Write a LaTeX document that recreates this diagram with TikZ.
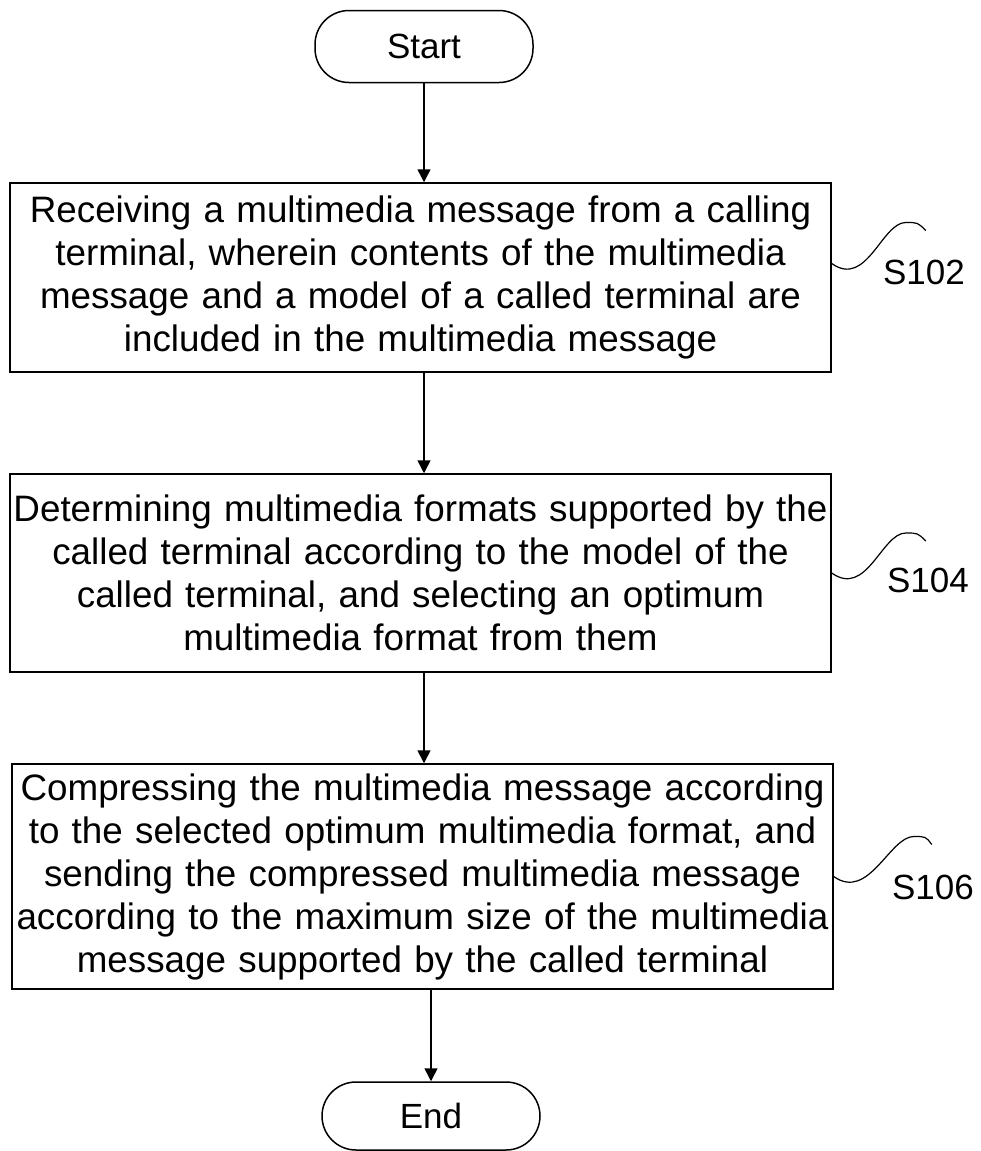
\documentclass[tikz,border=0pt]{standalone}
\usepackage{fontspec}
\setmainfont{Liberation Sans}
\usetikzlibrary{arrows.meta}
\begin{document}
\begin{tikzpicture}[x=1pt,y=1pt,line width=1.5pt,
  every node/.style={font=\fontsize{35}{42.5}\selectfont},
  term/.style={draw,rectangle,rounded corners=34pt,minimum width=218pt,minimum height=72pt,inner sep=0pt},
  stepbox/.style={draw,rectangle,minimum width=821pt,text width=819pt,align=center,inner sep=0pt,
    font=\fontsize{36.8}{43}\selectfont},
  arr/.style={-{Triangle[length=13pt,width=13pt]}}]
\useasboundingbox (0,0) rectangle (980,-1151);
% terminals
\node[term] (start) at (424,-46.5) {Start};
\node[term,minimum height=68pt] (end) at (431,-1116) {End};
% steps
\node[stepbox,minimum height=189pt] (b1) at (420.5,-277.5) {Receiving a multimedia message from a calling\\ terminal, wherein contents of the multimedia\\ message and a model of a called terminal are\\ included in the multimedia message};
\node[stepbox,minimum height=198pt] (b2) at (420.5,-573) {Determining multimedia formats supported by the\\ called terminal according to the model of the\\ called terminal, and selecting an optimum\\ multimedia format from them};
\node[stepbox,minimum height=225pt] (b3) at (422.5,-876.5) {Compressing the multimedia message according\\ to the selected optimum multimedia format, and\\ sending the compressed multimedia message\\ according to the maximum size of the multimedia\\ message supported by the called terminal};
% labels
\node (l1) at (924,-272) {S102};
\node (l2) at (928,-580) {S104};
\node (l3) at (933,-887) {S106};
% arrows
\draw[arr] (start) -- (start |- b1.north);
\draw[arr] (b1.south -| start) -- (b2.north -| start);
\draw[arr] (b2.south -| start) -- (b3.north -| start);
\draw[arr] (b3.south -| end) -- (end);
% leaders
\draw[line width=1.2pt] (b1.east) ++(0,14) .. controls +(35,-25) and +(-24,0) .. ++(74,41) .. controls +(12,0) .. ++(20,-8);
\draw[line width=1.2pt] (b2.east) .. controls +(35,-25) and +(-24,0) .. ++(74,40) .. controls +(12,0) .. ++(20,-8);
\draw[line width=1.2pt] (b3.east) .. controls +(35,-25) and +(-24,0) .. ++(80,40) .. controls +(12,0) .. ++(18,-8);
\end{tikzpicture}
\end{document}
